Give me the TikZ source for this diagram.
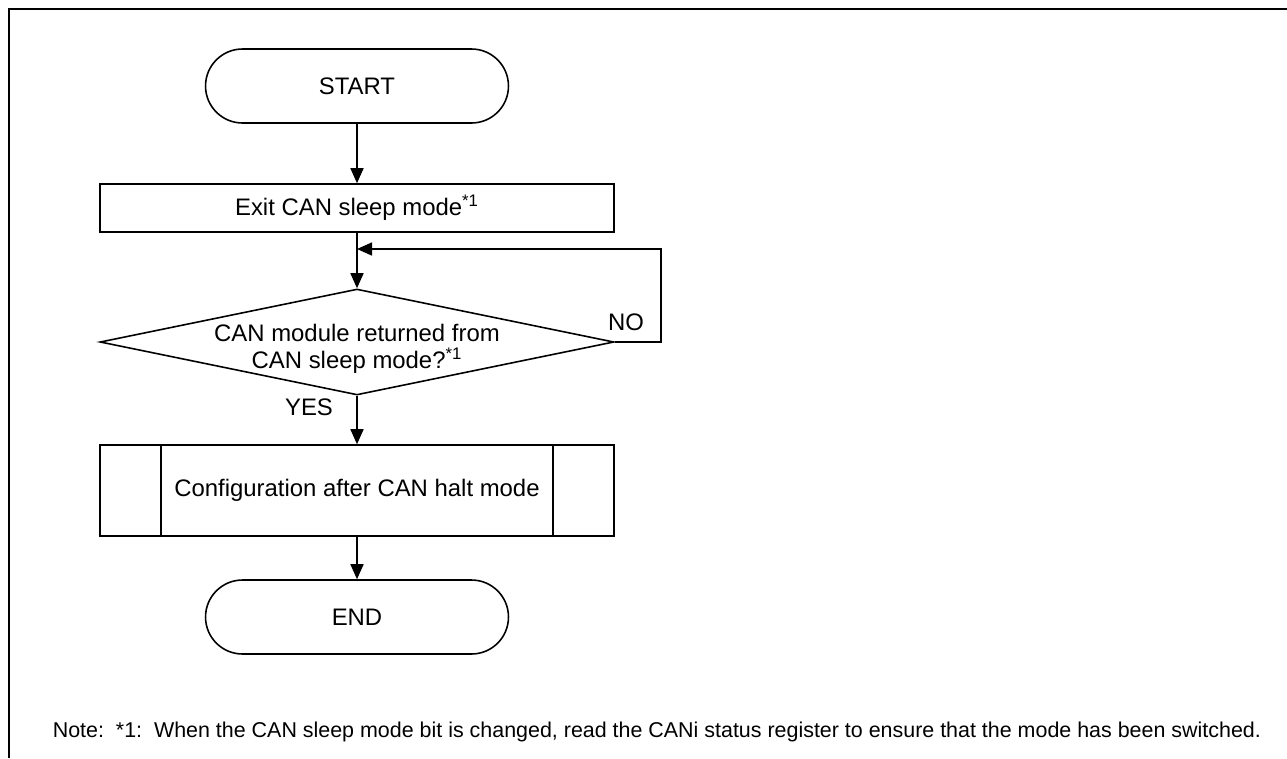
\documentclass[tikz,border=0pt]{standalone}
\usepackage{fontspec}
\setmainfont{Liberation Sans}
\usetikzlibrary{arrows.meta,shapes.geometric,positioning}

\begin{document}
\begin{tikzpicture}[x=0.02cm, y=-0.02cm, line width=0.9pt, >={Triangle[length=0.3cm,width=0.26cm]},
		font=\fontsize{13.6}{15.5}\selectfont,
		term/.style={draw, rounded corners=0.74cm, minimum width=6.06cm, minimum height=1.48cm},
		proc/.style={draw, minimum width=10.28cm, minimum height=0.96cm},
		cond/.style={draw, diamond, aspect=4.85, inner sep=0pt, minimum width=10.28cm, minimum height=2.12cm},
		subproc/.style={draw, minimum width=10.28cm, minimum height=1.82cm},
		flow/.style={->}]
	\useasboundingbox (0,0) rectangle (1287,758);
	% frame
	\draw (1287,9) -- (9,9) -- (9,758);
	% steps
	\node[term] (start) at (357,86) {START};
	\node[proc] (exit) at (357,208) {Exit CAN sleep mode\textsuperscript{*1}};
	\node[cond] (dec) at (357,342) {};
	\node[align=center] (dectxt) at ([yshift=-0.14cm]dec.center) {CAN module returned from\\CAN sleep mode?\textsuperscript{*1}};
	\node[subproc] (conf) at (357,490.5) {Configuration after CAN halt mode};
	\draw ([xshift=1.24cm]conf.north west) -- ([xshift=1.24cm]conf.south west);
	\draw ([xshift=-1.24cm]conf.north east) -- ([xshift=-1.24cm]conf.south east);
	\node[term] (end) at (357,617) {END};
	% connectors
	\coordinate (merge) at (357,249);
	\draw[flow] (start) -- (exit);
	\draw[flow] (exit) -- (dec);
	\draw[flow] (dec.east) -- ++(46,0) |- (merge);
	\draw[flow] (dec) -- (conf);
	\draw[flow] (conf) -- (end);
	\node (no) at (626,322) {NO};
	\node (yes) at (309,407) {YES};
	% note
	\node[anchor=west, inner sep=0pt, font=\fontsize{12.2}{14}\selectfont] (note) at (52,732) {Note:\ \ *1:\ \ When the CAN sleep mode bit is changed, read the CANi status register to ensure that the mode has been switched.};
\end{tikzpicture}
\end{document}
